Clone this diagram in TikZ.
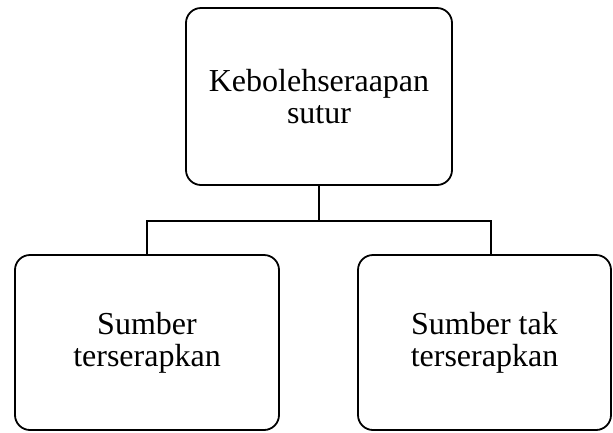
\documentclass[tikz,border=0pt]{standalone}
\usepackage{fontspec}
\setmainfont{Liberation Serif}
\begin{document}
\begin{tikzpicture}[x=1pt,y=-1pt,
  box/.style={draw, line width=1.8pt, rounded corners=15pt, inner sep=0pt, align=center,
    font=\fontsize{32}{32}\selectfont},
  link/.style={line width=1.8pt}]
\useasboundingbox (0,0) rectangle (613,432);
\node[box, minimum width=266pt, minimum height=177pt] (top) at (319,96.5) {Kebolehseraapan\\sutur};
\node[box, minimum width=264pt, minimum height=175pt] (left) at (147,342.5) {Sumber\\terserapkan};
\node[box, minimum width=253pt, minimum height=175pt] (right) at (484.5,342.5) {Sumber tak\\terserapkan};
\coordinate (hl) at (147,221);
\coordinate (hr) at (491,221);
\draw[link] (top.south) -- (top.south |- hl);
\draw[link] (left.north) -- (hl) -- (hr) -- (hr |- right.north);
\end{tikzpicture}
\end{document}
